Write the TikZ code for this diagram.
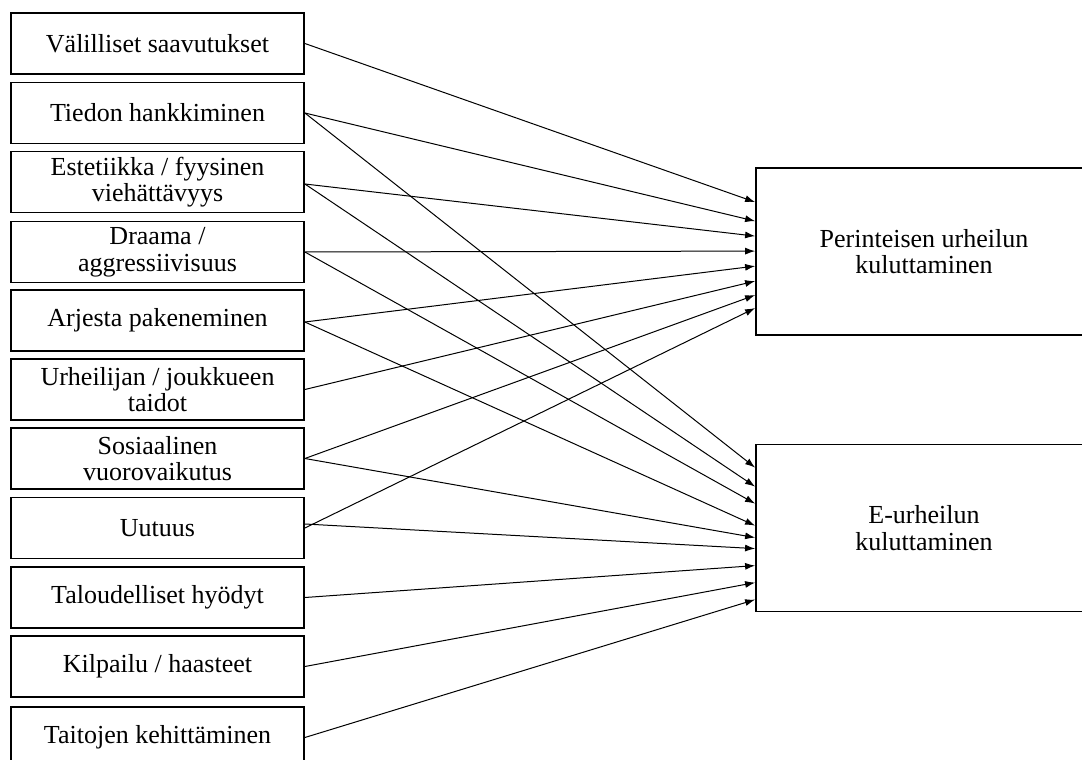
\documentclass[tikz,border=0pt]{standalone}
\usepackage{fontspec}
\setmainfont{Liberation Serif}
\usetikzlibrary{arrows.meta}
\tikzset{
  src/.style={draw, line width=1.8pt, minimum width=293pt, minimum height=61pt, inner sep=0pt, align=center, font=\fontsize{26}{26.5}\selectfont},
  tgt/.style={draw, line width=1.8pt, minimum width=336pt, minimum height=167pt, inner sep=0pt, align=center, font=\fontsize{26}{26.5}\selectfont},
  link/.style={line width=1pt, -{Latex[length=10pt,width=7pt]}}
}
\begin{document}
\begin{tikzpicture}[x=1pt,y=-1pt]
\useasboundingbox (0,0) rectangle (1082,760);
\clip (0,0) rectangle (1082,760);
\node[src] (s1) at (157.5,43.5) {Välilliset saavutukset};
\node[src] (s2) at (157.5,113) {Tiedon hankkiminen};
\node[src] (s3) at (157.5,182) {Estetiikka / fyysinen\\viehättävyys};
\node[src] (s4) at (157.5,252) {Draama /\\aggressiivisuus};
\node[src] (s5) at (157.5,320.5) {Arjesta pakeneminen};
\node[src] (s6) at (157.5,389.5) {Urheilijan / joukkueen\\taidot};
\node[src] (s7) at (157.5,458.5) {Sosiaalinen\\vuorovaikutus};
\node[src] (s8) at (157.5,528) {Uutuus};
\node[src] (s9) at (157.5,597.5) {Taloudelliset hyödyt};
\node[src] (s10) at (157.5,666.5) {Kilpailu / haasteet};
\node[src] (s11) at (157.5,737.5) {Taitojen kehittäminen};
\node[tgt] (P) at (924,251.5) {Perinteisen urheilun\\kuluttaminen};
\node[tgt] (E) at (924,528) {E-urheilun\\kuluttaminen};
% to P
\draw[link] (s1.east) -- ([yshift=-35pt]P.north west);
\draw[link] (s2.east) -- ([yshift=-54pt]P.north west);
\draw[link] ([yshift=-2pt]s3.east) -- ([yshift=-69pt]P.north west);
\draw[link] (s4.east) -- ([yshift=-84pt]P.north west);
\draw[link] ([yshift=-1.5pt]s5.east) -- ([yshift=-99pt]P.north west);
\draw[link] (s6.east) -- ([yshift=-114pt]P.north west);
\draw[link] (s7.east) -- ([yshift=-128pt]P.north west);
\draw[link] (s8.east) -- ([yshift=-141pt]P.north west);
% to E
\draw[link] (s2.east) -- ([yshift=-24pt]E.north west);
\draw[link] ([yshift=-2pt]s3.east) -- ([yshift=-43pt]E.north west);
\draw[link] (s4.east) -- ([yshift=-60pt]E.north west);
\draw[link] ([yshift=-1.5pt]s5.east) -- ([yshift=-82pt]E.north west);
\draw[link] (s7.east) -- ([yshift=-94pt]E.north west);
\draw[link] ([yshift=4pt]s8.east) -- ([yshift=-105pt]E.north west);
\draw[link] (s9.east) -- ([yshift=-122pt]E.north west);
\draw[link] (s10.east) -- ([yshift=-139pt]E.north west);
\draw[link] (s11.east) -- ([yshift=-156pt]E.north west);
\end{tikzpicture}
\end{document}
